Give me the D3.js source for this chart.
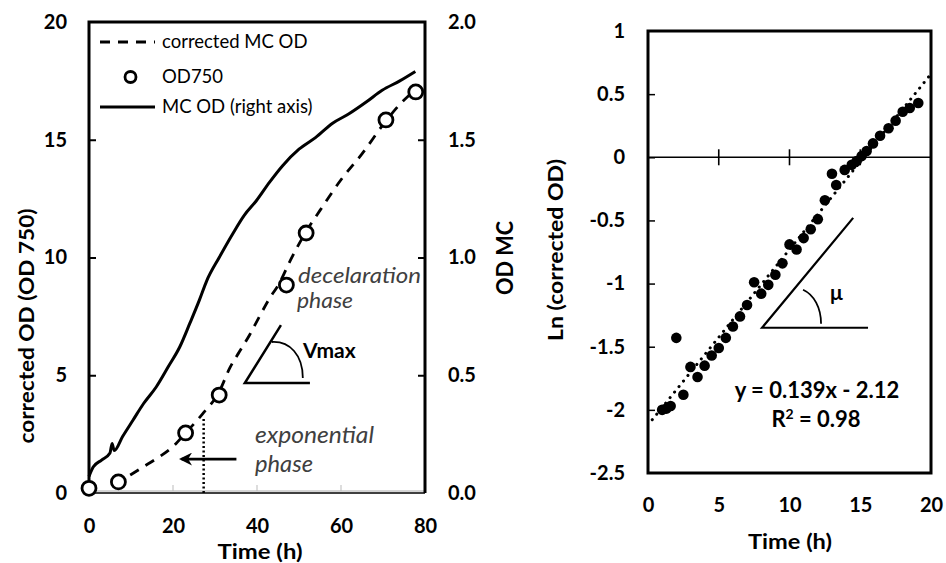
<!DOCTYPE html>
<html><head><meta charset="utf-8">
<script src="https://cdn.jsdelivr.net/npm/d3@7"></script>
<style>body{margin:0;background:#fff}svg{display:block}text{font-family:Lato,"Open Sans",sans-serif}</style>
</head><body><svg id="c" width="946" height="563"></svg>
<script>
// ---------- data: left panel ----------
const mcTime = [0, 1, 3, 5, 5.5, 6, 8, 10.5, 13, 16, 19, 21.6, 24, 26.3, 28, 31, 34.2, 37, 39.8, 43, 46.1, 50, 54, 58, 61.9, 66, 69.8, 74, 77.7];
const mcOD   = [0.07, 0.11, 0.14, 0.17, 0.21, 0.18, 0.24, 0.31, 0.38, 0.45, 0.54, 0.62, 0.72, 0.82, 0.90, 1.00, 1.10, 1.18, 1.24, 1.32, 1.39, 1.46, 1.51, 1.57, 1.61, 1.66, 1.71, 1.75, 1.79];
const corrTime = [6, 8, 10.5, 13, 16, 20, 23, 27, 31, 33.5, 35.8, 38.2, 40.6, 43, 45.3, 48, 51.7, 55, 60, 65, 70.7, 74, 77.5];
const corrOD   = [0.42, 0.58, 0.84, 1.12, 1.45, 1.97, 2.55, 3.35, 4.3, 5.3, 6.0, 6.7, 7.5, 8.27, 8.9, 9.9, 11.1, 12.0, 13.3, 14.4, 15.8, 16.5, 17.1];
const odTime = [0, 7, 23, 31, 47, 51.7, 70.7, 77.8];
const od750  = [0.2, 0.47, 2.55, 4.16, 8.83, 11.04, 15.84, 17.03];
const leftXTicks = [0, 20, 40, 60, 80];
const leftYTicks = [0, 5, 10, 15, 20];
const rightYTicks = [0, 0.5, 1.0, 1.5, 2.0];
const legendLabels = ["corrected MC OD", "OD750", "MC OD (right axis)"];
// annotation anchors (data units, left panel)
const expLineX = 27.3, expLineTop = 3.24;
const arrowFrom = [35.1, 1.44], arrowTo = [21.1, 1.44];
const vmaxVertex = [37.1, 4.67], vmaxTip = [45.7, 7.13], vmaxBaseEnd = 52.6;

// ---------- data: right panel ----------
const lnTime = [1.0, 1.3, 1.6, 2.0, 2.5, 3.0, 3.5, 4.0, 4.5, 5.0, 5.5, 6.0, 6.5, 7.0, 7.5, 8.0, 8.5, 9.0, 9.5, 10.0, 10.5, 11.0, 11.5, 12.0, 12.5, 13.0, 13.3, 13.9, 14.4, 14.75, 15.1, 15.45, 15.9, 16.4, 17.0, 17.5, 18.0, 18.5, 19.1];
const lnOD   = [-2.00, -1.99, -1.97, -1.43, -1.88, -1.66, -1.74, -1.65, -1.57, -1.51, -1.43, -1.34, -1.26, -1.17, -0.99, -1.08, -1.01, -0.93, -0.84, -0.69, -0.73, -0.64, -0.57, -0.49, -0.34, -0.13, -0.22, -0.10, -0.06, -0.03, 0.01, 0.05, 0.11, 0.17, 0.23, 0.29, 0.36, 0.39, 0.43];
const fitSlope = 0.139, fitIntercept = -2.12, fitRange = [0.3, 20];
const lnXTicks = [0, 5, 10, 15, 20];
const lnYTicks = [-2.5, -2, -1.5, -1, -0.5, 0, 0.5, 1];
const muVertex = [8.06, -1.35], muTip = [14.5, -0.48], muBaseEnd = 15.55;

const svg = d3.select("#c");
const BLACK = "#000";

// ---------- left panel ----------
const xL = d3.scaleLinear([0, 80], [89, 425]);
const yL = d3.scaleLinear([0, 20], [493, 22]);
const yR = d3.scaleLinear([0, 2], [493, 22]);
const L = svg.append("g");

// bottom axis (thin) with light ticks
L.append("line").attr("x1", xL(0)).attr("x2", xL(80)).attr("y1", yL(0) - 2).attr("y2", yL(0) - 2).attr("stroke", "#aaa").attr("stroke-width", 1);
L.append("line").attr("x1", xL(0)).attr("x2", xL(80)).attr("y1", yL(0)).attr("y2", yL(0)).attr("stroke", BLACK).attr("stroke-width", 1.5);
L.selectAll(".xt").data(leftXTicks.slice(1, -1)).join("line")
  .attr("x1", d => xL(d)).attr("x2", d => xL(d)).attr("y1", yL(0) - 2).attr("y2", yL(0) - 8)
  .attr("stroke", "#bbb").attr("stroke-width", 1);

// axes labels via d3 axes
const axX = d3.axisBottom(xL).tickValues(leftXTicks).tickSize(0).tickPadding(26);
const gx = L.append("g").attr("transform", `translate(0,${yL(0)})`).call(axX);
const axY = d3.axisLeft(yL).tickValues(leftYTicks).tickSizeInner(-7).tickSizeOuter(0).tickPadding(22);
const gy = L.append("g").attr("transform", `translate(${xL(0)},0)`).call(axY);
const axY2 = d3.axisRight(yR).tickValues(rightYTicks).tickFormat(d3.format(".1f")).tickSizeInner(-7).tickSizeOuter(0).tickPadding(23);
const gy2 = L.append("g").attr("transform", `translate(${xL(80)},0)`).call(axY2);
[gx, gy, gy2].forEach(g => {
  g.select(".domain").remove();
  g.selectAll("text").attr("font-size", 20).attr("font-weight", 700).attr("fill", BLACK);
  g.selectAll("line").attr("stroke", BLACK).attr("stroke-width", 2);
});
gy.selectAll(".tick").filter(d => d === 0 || d === 20).select("line").remove();
gy2.selectAll(".tick").filter(d => d === 0 || d === 2).select("line").remove();

// frame (left, top, right thick)
L.append("path").attr("d", `M${xL(0)},${yL(0)}V${yL(20)}H${xL(80)}V${yL(0)}`)
  .attr("fill", "none").attr("stroke", BLACK).attr("stroke-width", 3);

// MC OD solid line (right axis)
const mcData = mcTime.map((t, i) => [t, mcOD[i]]);
L.append("path").datum(mcData)
  .attr("d", d3.line().x(d => xL(d[0])).y(d => yR(d[1])).curve(d3.curveMonotoneX))
  .attr("fill", "none").attr("stroke", BLACK).attr("stroke-width", 3);

// corrected dashed line
const corrData = corrTime.map((t, i) => [t, corrOD[i]]);
L.append("path").datum(corrData)
  .attr("d", d3.line().x(d => xL(d[0])).y(d => yL(d[1])).curve(d3.curveMonotoneX))
  .attr("fill", "none").attr("stroke", BLACK).attr("stroke-width", 2.8).attr("stroke-dasharray", "10,8");

// OD750 circles
L.selectAll(".od").data(odTime.map((t, i) => [t, od750[i]])).join("circle")
  .attr("cx", d => xL(d[0])).attr("cy", d => yL(d[1])).attr("r", 7)
  .attr("fill", "#fff").attr("stroke", BLACK).attr("stroke-width", 2.8);

// legend
const lg = L.append("g");
const lgX1 = 100, lgX2 = 155, lgTx = 162, lgY = [42, 77, 107];
lg.append("line").attr("x1", lgX1).attr("x2", lgX2).attr("y1", lgY[0]).attr("y2", lgY[0])
  .attr("stroke", BLACK).attr("stroke-width", 3).attr("stroke-dasharray", "10,8");
lg.append("circle").attr("cx", (lgX1 + lgX2) / 2 + 3).attr("cy", lgY[1]).attr("r", 5.5)
  .attr("fill", "#fff").attr("stroke", BLACK).attr("stroke-width", 2.8);
lg.append("line").attr("x1", lgX1).attr("x2", lgX2).attr("y1", lgY[2]).attr("y2", lgY[2])
  .attr("stroke", BLACK).attr("stroke-width", 3.2);
lg.selectAll("text").data(legendLabels).join("text")
  .attr("x", lgTx).attr("y", (d, i) => lgY[i]).attr("dy", "0.35em")
  .attr("font-size", 18.5).attr("fill", BLACK).text(d => d);

// exponential phase marker
L.append("line").attr("x1", xL(expLineX)).attr("x2", xL(expLineX)).attr("y1", yL(0)).attr("y2", yL(expLineTop))
  .attr("stroke", BLACK).attr("stroke-width", 2.5).attr("stroke-dasharray", "2,2.5");
svg.append("defs").append("marker").attr("id", "ah").attr("viewBox", "0 0 10 10").attr("refX", 8).attr("refY", 5)
  .attr("markerWidth", 5).attr("markerHeight", 5).attr("orient", "auto")
  .append("path").attr("d", "M0,0L10,5L0,10L3,5Z").attr("fill", BLACK);
L.append("line").attr("x1", xL(arrowFrom[0])).attr("y1", yL(arrowFrom[1])).attr("x2", xL(arrowTo[0]) + 4).attr("y2", yL(arrowTo[1]))
  .attr("stroke", BLACK).attr("stroke-width", 2.6).attr("marker-end", "url(#ah)");
const ital = (x, y, t, size, len) => {
  const e = L.append("text").attr("x", x).attr("y", y).attr("font-size", size).attr("font-style", "italic")
    .attr("fill", "#404040").text(t);
  if (len) e.attr("textLength", len).attr("lengthAdjust", "spacingAndGlyphs");
};
ital(255, 443, "exponential", 23, 119);
ital(255, 472, "phase", 23, 58);
ital(298, 283, "decelaration", 20.5, 123);
ital(297, 308, "phase", 20.5, 56);

// Vmax angle
const vx = xL(vmaxVertex[0]), vy = yL(vmaxVertex[1]);
L.append("path").attr("d", `M${xL(vmaxTip[0])},${yL(vmaxTip[1])}L${vx},${vy}H${xL(vmaxBaseEnd)}`)
  .attr("fill", "none").attr("stroke", BLACK).attr("stroke-width", 2.5);
L.append("path").attr("d", `M${vx + 27},${vy - 41}C${vx + 45},${vy - 42} ${vx + 58},${vy - 28} ${vx + 58},${vy - 5}`)
  .attr("fill", "none").attr("stroke", BLACK).attr("stroke-width", 1.8);
L.append("text").attr("x", 303).attr("y", 358).attr("font-size", 21).attr("font-weight", 700).attr("fill", BLACK).text("Vmax");

// axis titles
const title = (g, tr, t, len, size) => g.append("text").attr("transform", tr).attr("text-anchor", "middle")
  .attr("font-size", size).attr("font-weight", 700).attr("fill", BLACK)
  .attr("textLength", len).attr("lengthAdjust", "spacingAndGlyphs").text(t);
title(L, "translate(34,326) rotate(-90)", "corrected OD (OD 750)", 235, 21);
title(L, "translate(513,258) rotate(-90)", "OD MC", 74, 22);
title(L, "translate(260,559)", "Time (h)", 85, 21);

// ---------- right panel ----------
const x2 = d3.scaleLinear([0, 20], [648, 931]);
const y2 = d3.scaleLinear([-2.5, 1], [473, 31]);
const R = svg.append("g");
const fmt = d => String(d);
const rx = R.append("g").attr("transform", `translate(0,${y2(-2.5)})`)
  .call(d3.axisBottom(x2).tickValues(lnXTicks).tickFormat(fmt).tickSize(0).tickPadding(25));
const ry = R.append("g").attr("transform", `translate(${x2(0)},0)`)
  .call(d3.axisLeft(y2).tickValues(lnYTicks).tickFormat(fmt).tickSizeInner(-7).tickSizeOuter(0).tickPadding(23));
[rx, ry].forEach(g => {
  g.select(".domain").remove();
  g.selectAll("text").attr("font-size", 20).attr("font-weight", 700).attr("fill", BLACK);
  g.selectAll("line").attr("stroke", BLACK).attr("stroke-width", 1.5);
});
ry.selectAll(".tick").filter(d => d === -2.5 || d === 1).select("line").remove();

// zero line with crossing ticks
R.append("line").attr("x1", x2(0)).attr("x2", x2(20)).attr("y1", y2(0)).attr("y2", y2(0)).attr("stroke", BLACK).attr("stroke-width", 1.6);
R.selectAll(".zt").data(lnXTicks.slice(1, -1)).join("line")
  .attr("x1", d => x2(d)).attr("x2", d => x2(d)).attr("y1", y2(0) - 8).attr("y2", y2(0) + 8)
  .attr("stroke", BLACK).attr("stroke-width", 1.6);

// fit line (dotted)
R.append("line").attr("x1", x2(fitRange[0])).attr("y1", y2(fitSlope * fitRange[0] + fitIntercept))
  .attr("x2", x2(fitRange[1])).attr("y2", y2(fitSlope * fitRange[1] + fitIntercept))
  .attr("stroke", BLACK).attr("stroke-width", 3).attr("stroke-linecap", "round").attr("stroke-dasharray", "0.1,7");

// points
R.selectAll(".pt").data(lnTime.map((t, i) => [t, lnOD[i]])).join("circle")
  .attr("cx", d => x2(d[0])).attr("cy", d => y2(d[1])).attr("r", 5.3).attr("fill", BLACK);

// frame
R.append("rect").attr("x", x2(0)).attr("y", y2(1)).attr("width", x2(20) - x2(0)).attr("height", y2(-2.5) - y2(1))
  .attr("fill", "none").attr("stroke", BLACK).attr("stroke-width", 3);

// mu angle
const mx = x2(muVertex[0]), my = y2(muVertex[1]);
R.append("path").attr("d", `M${x2(muTip[0])},${y2(muTip[1])}L${mx},${my}H${x2(muBaseEnd)}`)
  .attr("fill", "none").attr("stroke", BLACK).attr("stroke-width", 2.2);
R.append("path").attr("d", `M${mx + 41},${my - 38}C${mx + 52},${my - 33} ${mx + 59},${my - 20} ${mx + 59},${my - 4}`)
  .attr("fill", "none").attr("stroke", BLACK).attr("stroke-width", 1.8);
R.append("text").attr("x", 830).attr("y", 300).attr("font-size", 21).attr("font-weight", 700).attr("fill", BLACK).text("μ");

// equation
R.append("text").attr("x", 817).attr("y", 398).attr("text-anchor", "middle").attr("font-size", 22).attr("font-weight", 700).attr("fill", BLACK)
  .text("y = 0.139x - 2.12");
const r2 = R.append("text").attr("x", 816).attr("y", 427).attr("text-anchor", "middle").attr("font-size", 22).attr("font-weight", 700).attr("fill", BLACK);
r2.append("tspan").text("R");
r2.append("tspan").attr("dy", -8).attr("font-size", 14).text("2");
r2.append("tspan").attr("dy", 8).text(" = 0.98");

// titles
title(R, "translate(563,250) rotate(-90)", "Ln (corrected OD)", 182, 21);
title(R, "translate(790,549)", "Time (h)", 84, 21);
</script></body></html>
